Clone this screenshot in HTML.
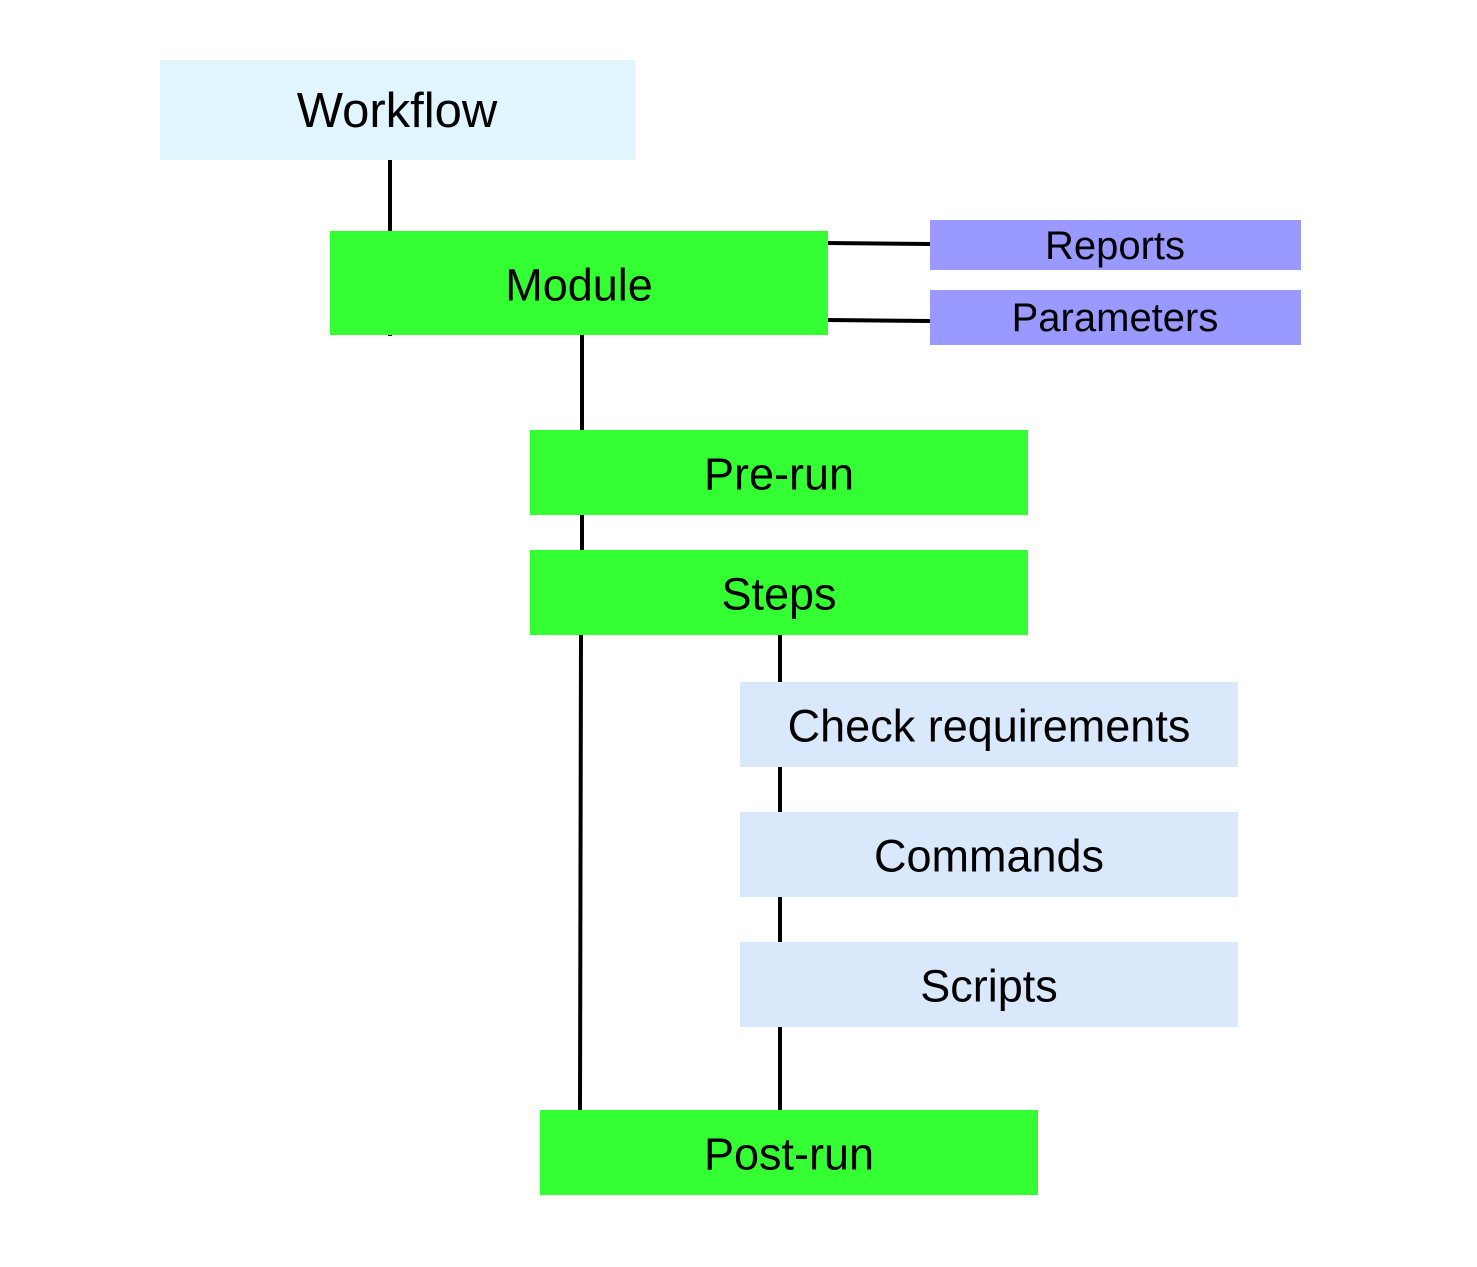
<!DOCTYPE html>
<html><head><meta charset="utf-8"><style>
html,body{margin:0;padding:0;background:#fff;}
svg text{font-family:"Liberation Sans",sans-serif;text-anchor:middle;dominant-baseline:central;fill:#000;}
</style></head><body>
<svg width="1477" height="1262" viewBox="0 0 1477 1262" xmlns="http://www.w3.org/2000/svg">
<g stroke="#000" stroke-width="4" fill="none">
<line x1="390" y1="160" x2="390" y2="336"/>
<line x1="827" y1="243" x2="930" y2="244"/>
<line x1="827" y1="320" x2="930" y2="321"/>
<line x1="582" y1="334" x2="582" y2="550"/>
<line x1="581" y1="634" x2="580" y2="1110"/>
<line x1="780" y1="634" x2="780" y2="1110"/>
</g>
<rect x="160" y="60" width="475" height="100" fill="#e1f5fe"/>
<text x="397" y="111" font-size="49">Workflow</text>
<rect x="330" y="231" width="498" height="104" fill="#33ff33"/>
<text x="579" y="285" font-size="45">Module</text>
<rect x="930" y="220" width="371" height="50" fill="#9999ff"/>
<text x="1115" y="246" font-size="40">Reports</text>
<rect x="930" y="290" width="371" height="55" fill="#9999ff"/>
<text x="1115" y="318" font-size="40">Parameters</text>
<rect x="530" y="430" width="498" height="85" fill="#33ff33"/>
<text x="779" y="474" font-size="45">Pre-run</text>
<rect x="530" y="550" width="498" height="85" fill="#33ff33"/>
<text x="779" y="594" font-size="45">Steps</text>
<rect x="740" y="682" width="498" height="85" fill="#dae8fc"/>
<text x="989" y="726" font-size="45">Check requirements</text>
<rect x="740" y="812" width="498" height="85" fill="#dae8fc"/>
<text x="989" y="856" font-size="45">Commands</text>
<rect x="740" y="942" width="498" height="85" fill="#dae8fc"/>
<text x="989" y="986" font-size="45">Scripts</text>
<rect x="540" y="1110" width="498" height="85" fill="#33ff33"/>
<text x="789" y="1154" font-size="45">Post-run</text>
</svg>
</body></html>
